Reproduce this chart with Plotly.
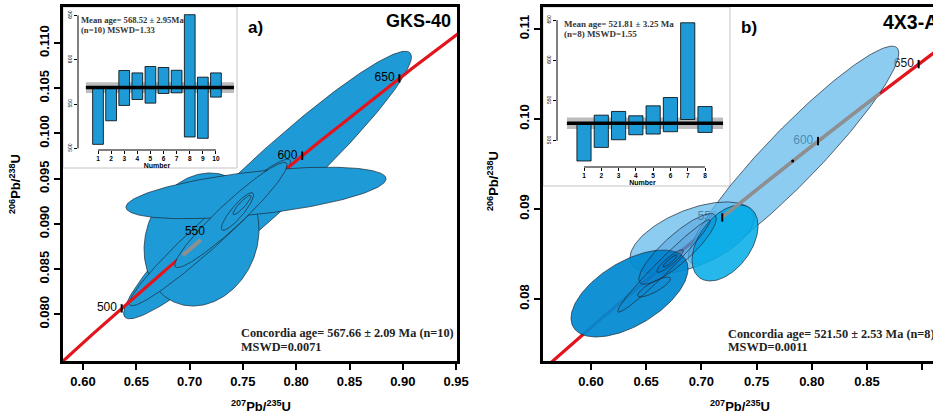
import numpy as np
import plotly.graph_objects as go

# ---------------- constants ----------------
LAMBDA_238 = 1.55125e-10   # 1/yr
LAMBDA_235 = 9.8485e-10    # 1/yr

SANS = "Liberation Sans, Arial, sans-serif"
SERIF = "Liberation Serif, Times New Roman, serif"

# ---------------- Panel a (GKS-40) ----------------
a_name = "GKS-40"
a_xticks = [0.60, 0.65, 0.70, 0.75, 0.80, 0.85, 0.90, 0.95]
a_yticks = [0.080, 0.085, 0.090, 0.095, 0.100, 0.105, 0.110]
a_curve_ages = list(range(440, 720, 2))
a_age_labels = [500, 550, 600, 650]
a_age_marks = [500, 600, 650]
a_gray_ages = [535, 545]
# analysis ellipses: centre 207Pb/235U, centre 206Pb/238U, half-widths, error correlation
a_ell_x = [0.7731, 0.7112, 0.7191, 0.7623, 0.7388, 0.7449, 0.7492]
a_ell_y = [0.09430, 0.08827, 0.08905, 0.09342, 0.09098, 0.09137, 0.09209]
a_ell_sx = [0.1350, 0.0539, 0.0756, 0.1220, 0.0527, 0.0151, 0.0085]
a_ell_sy = [0.01480, 0.00736, 0.00811, 0.00285, 0.00582, 0.00208, 0.00107]
a_ell_rho = [0.958, 0.15, 0.966, 0.55, 0.950, 0.878, 0.90]
a_n_under_curve = 3
a_conc_lines = ["Concordia age= 567.66 ± 2.09 Ma (n=10)", "MSWD=0.0071"]
a_mean_lines = ["Mean age= 568.52 ± 2.95Ma", "(n=10) MSWD=1.33"]
a_bar_num = [1, 2, 3, 4, 5, 6, 7, 8, 9, 10]
a_bar_lo = [504.5, 531.1, 548.4, 555.1, 551.0, 561.9, 562.6, 512.8, 511.3, 557.8]
a_bar_hi = [568.6, 567.9, 587.8, 585.1, 592.3, 591.2, 588.1, 650.8, 580.3, 585.1]
a_mean_age = 568.52
a_mean_band = 6.0
a_inset_ticks = [500, 550, 600, 650]

# ---------------- Panel b (4X3-A) ----------------
b_name = "4X3-A"
b_xticks = [0.60, 0.65, 0.70, 0.75, 0.80, 0.85, 0.90]
b_yticks = [0.08, 0.09, 0.10, 0.11]
b_curve_ages = list(range(440, 720, 2))
b_age_labels = [550, 600, 650]
b_gray_ages = [550, 631]
b_dot_age = [587]
b_ell_x = [0.7834, 0.6915, 0.7214, 0.6349, 0.6784, 0.6661, 0.6571, 0.6716, 0.6716]
b_ell_y = [0.0960, 0.08678, 0.08622, 0.08061, 0.08556, 0.08367, 0.08133, 0.08422, 0.08422]
b_ell_sx = [0.0954, 0.0562, 0.0299, 0.0530, 0.0351, 0.0419, 0.0149, 0.0120, 0.0063]
b_ell_sy = [0.01209, 0.0040, 0.00422, 0.00483, 0.00393, 0.00513, 0.00111, 0.00126, 0.00067]
b_ell_rho = [0.937, 0.55, 0.45, 0.57, 0.856, 0.977, 0.82, 0.894, 0.90]
b_ell_fill = ["rgba(95,185,235,0.72)", "rgba(95,185,235,0.72)", "rgba(0,172,232,0.85)",
              "rgba(0,138,210,0.93)", "rgba(0,100,190,0.22)", "rgba(0,100,190,0.10)",
              "rgba(0,100,190,0.10)", "rgba(0,100,190,0.10)", "rgba(0,100,190,0.10)"]
b_conc_lines = ["Concordia age= 521.50 ± 2.53 Ma (n=8)", "MSWD=0.0011"]
b_mean_lines = ["Mean age= 521.81 ± 3.25 Ma", "(n=8) MSWD=1.55"]
b_bar_num = [1, 2, 3, 4, 5, 6, 7, 8]
b_bar_lo = [474.8, 491.7, 501.2, 507.4, 508.3, 511.2, 526.4, 510.3]
b_bar_hi = [522.3, 531.8, 536.4, 531.0, 543.4, 553.7, 646.7, 542.5]
b_mean_age = 521.81
b_mean_band = 7.2
b_inset_ticks = [500, 550, 600, 650]

A_FILL = "#1e9bd7"
OUTLINE = "#1c2833"
RED = "#e3141b"
GRAY = "#8f8f8f"


def concordia(ages_ma):
    t = np.asarray(ages_ma, dtype=float) * 1e6
    return np.expm1(LAMBDA_235 * t), np.expm1(LAMBDA_238 * t)


_t = np.linspace(0, 2 * np.pi, 241)


def ellipse(cx, cy, sx, sy, rho):
    x = cx + sx * np.cos(_t)
    y = cy + sy * (rho * np.cos(_t) + np.sqrt(1 - rho ** 2) * np.sin(_t))
    return x, y


fig = go.Figure()


def add_ellipse(cx, cy, sx, sy, rho, fill, xa, ya):
    ex, ey = ellipse(cx, cy, sx, sy, rho)
    fig.add_trace(go.Scatter(x=ex, y=ey, mode="lines", fill="toself", fillcolor=fill,
                             line=dict(color=OUTLINE, width=0.7), hoverinfo="skip",
                             xaxis=xa, yaxis=ya))


def add_curve(ages, color, width, xa, ya):
    cx, cy = concordia(ages)
    fig.add_trace(go.Scatter(x=cx, y=cy, mode="lines", line=dict(color=color, width=width),
                             hoverinfo="skip", xaxis=xa, yaxis=ya))


def add_age_labels(ages, xa, ya, textcolor="black"):
    cx, cy = concordia(ages)
    fig.add_trace(go.Scatter(
        x=cx, y=cy, mode="markers+text", text=[str(a) for a in ages],
        textposition="middle left",
        textfont=dict(family=SANS, size=12, color=textcolor),
        marker=dict(symbol="line-ns", size=6, line=dict(width=2, color="rgba(0,0,0,0)")),
        hoverinfo="skip", xaxis=xa, yaxis=ya))


def add_age_marks(ages, xa, ya):
    cx, cy = concordia(ages)
    fig.add_trace(go.Scatter(
        x=cx, y=cy, mode="markers",
        marker=dict(symbol="line-ns", size=6, line=dict(width=2, color="black")),
        hoverinfo="skip", xaxis=xa, yaxis=ya))


# ---------- panel a ----------
for i in range(len(a_ell_x)):
    if i == a_n_under_curve:
        add_curve(a_curve_ages, RED, 3.2, "x", "y")
    add_ellipse(a_ell_x[i], a_ell_y[i], a_ell_sx[i], a_ell_sy[i], a_ell_rho[i], A_FILL, "x", "y")
add_curve(list(range(a_gray_ages[0], a_gray_ages[1] + 1)), GRAY, 4, "x", "y")
add_age_marks(a_age_marks, "x", "y")
add_age_labels(a_age_labels, "x", "y")

# ---------- panel b ----------
add_curve(b_curve_ages, RED, 3.2, "x2", "y2")
add_age_labels(b_age_labels, "x2", "y2", textcolor="#111111")
for i in range(len(b_ell_x)):
    add_ellipse(b_ell_x[i], b_ell_y[i], b_ell_sx[i], b_ell_sy[i], b_ell_rho[i], b_ell_fill[i], "x2", "y2")
add_curve(list(range(b_gray_ages[0], b_gray_ages[1] + 1)), GRAY, 3.5, "x2", "y2")
add_age_marks(b_age_labels, "x2", "y2")
dx, dy = concordia(b_dot_age)
fig.add_trace(go.Scatter(x=dx, y=dy, mode="markers", marker=dict(color="black", size=3),
                         hoverinfo="skip", xaxis="x2", yaxis="y2"))

# ---------- insets ----------
fig.add_trace(go.Bar(x=a_bar_num, y=[h - l for h, l in zip(a_bar_hi, a_bar_lo)], base=a_bar_lo,
                     width=0.82, marker=dict(color=A_FILL, line=dict(color="black", width=0.8)),
                     hoverinfo="skip", xaxis="x3", yaxis="y3"))
fig.add_trace(go.Bar(x=b_bar_num, y=[h - l for h, l in zip(b_bar_hi, b_bar_lo)], base=b_bar_lo,
                     width=0.82, marker=dict(color=A_FILL, line=dict(color="black", width=0.8)),
                     hoverinfo="skip", xaxis="x4", yaxis="y4"))

# ---------- axes ----------
W, H = 933, 416


def px_x(p):
    return p / W


def px_y(p):
    return (H - p) / H


main_ax = dict(showline=True, linewidth=3, linecolor="black", mirror=True, ticks="outside",
               ticklen=6, tickwidth=2, tickcolor="black", showgrid=False, zeroline=False,
               automargin=False,
               tickfont=dict(family=SANS, size=13, color="black", weight="bold"))
inset_x = dict(showline=False, ticks="outside", ticklen=2.5, tickwidth=1, tickcolor="black",
               showgrid=False, zeroline=False, automargin=False,
               tickfont=dict(family=SANS, size=6.5, color="black", weight="bold"),
               title=dict(text="Number", font=dict(family=SANS, size=7, color="black", weight="bold"),
                          standoff=0))
inset_y = dict(showline=False, ticks="outside", ticklen=3, tickwidth=1, tickcolor="black",
               showgrid=False, zeroline=False, tickangle=-90, automargin=False,
               tickfont=dict(family=SANS, size=5, color="black"))

main_ydom = [px_y(361), px_y(7)]

fig.update_layout(
    width=W, height=H, autosize=False, margin=dict(l=0, r=0, t=0, b=0, autoexpand=False),
    paper_bgcolor="white", plot_bgcolor="rgba(0,0,0,0)", showlegend=False, barmode="overlay",
    xaxis=dict(domain=[px_x(63), px_x(457)], range=[0.58124, 0.95084], tickvals=a_xticks,
               tickformat=".2f", anchor="y", **main_ax),
    yaxis=dict(domain=main_ydom, range=[0.07483, 0.11399], tickvals=a_yticks, tickformat=".3f",
               tickangle=-90, anchor="x", **main_ax),
    xaxis2=dict(domain=[px_x(543), 1.0], range=[0.55652, 0.90978], tickvals=b_xticks,
                tickformat=".2f", anchor="y2", **main_ax),
    yaxis2=dict(domain=main_ydom, range=[0.07311, 0.11244], tickvals=b_yticks, tickformat=".2f",
                tickangle=-90, anchor="x2", **{**main_ax, "mirror": False}),
    xaxis3=dict(domain=[px_x(78), px_x(236)], range=[-0.526, 11.53], tickvals=a_bar_num,
                anchor="y3", **inset_x),
    yaxis3=dict(domain=[px_y(150), px_y(10)], range=[498.1, 656.1], tickvals=a_inset_ticks,
                anchor="x3", **inset_y),
    xaxis4=dict(domain=[px_x(557), px_x(728)], range=[-0.562, 9.33], tickvals=b_bar_num,
                anchor="y4", **inset_x),
    yaxis4=dict(domain=[px_y(167), px_y(10)], range=[467.3, 662.6], tickvals=b_inset_ticks,
                anchor="x4", **inset_y),
)

shapes = []
# inset boxes
for (x0, x1, y1) in [(63, 237, 168), (543, 730, 186)]:
    shapes.append(dict(type="rect", xref="paper", yref="paper", x0=px_x(x0), x1=px_x(x1),
                       y0=px_y(y1), y1=px_y(7), fillcolor="white",
                       line=dict(color="#c4c4c4", width=1), layer="below"))
for xa, ya, mean, band, nums, ticks, ext in [
        ("x3", "y3", a_mean_age, a_mean_band, a_bar_num, a_inset_ticks, (0.05, 0.987)),
        ("x4", "y4", b_mean_age, b_mean_band, b_bar_num, b_inset_ticks, (0.058, 0.971))]:
    shapes.append(dict(type="rect", xref=xa + " domain", yref=ya, x0=ext[0], x1=ext[1],
                       y0=mean - band, y1=mean + band, fillcolor="#bdbdbd",
                       line=dict(width=0), layer="below"))
    shapes.append(dict(type="line", xref=xa + " domain", yref=ya, x0=ext[0], x1=ext[1],
                       y0=mean, y1=mean, line=dict(color="black", width=3.5), layer="above"))
    shapes.append(dict(type="line", xref=xa + " domain", yref=ya, x0=0, x1=0,
                       y0=ticks[0], y1=ticks[-1], line=dict(color="black", width=1)))
    shapes.append(dict(type="line", xref=xa, yref=ya + " domain", x0=nums[0], x1=nums[-1],
                       y0=0, y1=0, line=dict(color="black", width=1)))
fig.update_layout(shapes=shapes)

ann = []


def note(text, x, y, size, family=SANS, xanchor="left", angle=0, color="black", bold=True):
    ann.append(dict(text=text, x=x, y=y, xref="paper", yref="paper", showarrow=False,
                    xanchor=xanchor, yanchor="middle", textangle=angle,
                    font=dict(family=family, size=size, color=color,
                              weight="bold" if bold else "normal")))


xtitle = "<sup>207</sup>Pb/<sup>235</sup>U"
ytitle = "<sup>206</sup>Pb/<sup>238</sup>U"
note(xtitle, px_x(261), px_y(406), 13, xanchor="center")
note(xtitle, px_x(740), px_y(406), 13, xanchor="center")
note(ytitle, px_x(15), px_y(184), 13, xanchor="center", angle=-90)
note(ytitle, px_x(493), px_y(181), 13, xanchor="center", angle=-90)
note("a)", px_x(246), px_y(27.5), 17)
note(a_name, px_x(453), px_y(21.5), 18, xanchor="right")
note("b)", px_x(739), px_y(27.5), 17)
note(b_name, px_x(881), px_y(22.5), 19.5)
note(a_conc_lines[0], px_x(239), px_y(333), 12.3, family=SERIF, color="#222222")
note(a_conc_lines[1], px_x(239), px_y(347), 12.3, family=SERIF, color="#222222")
note(b_conc_lines[0], px_x(726), px_y(334), 12.3, family=SERIF, color="#222222")
note(b_conc_lines[1], px_x(726), px_y(347), 12.3, family=SERIF, color="#222222")
note(a_mean_lines[0], px_x(79), px_y(20), 8.6, family=SERIF, color="#333333")
note(a_mean_lines[1], px_x(79), px_y(29.5), 8.6, family=SERIF, color="#333333")
note(b_mean_lines[0], px_x(562), px_y(24), 9, family=SERIF, color="#333333")
note(b_mean_lines[1], px_x(562), px_y(34.5), 9, family=SERIF, color="#333333")
fig.update_layout(annotations=ann)

fig.write_html("out.html", config={"displayModeBar": False},
               post_script="document.body.style.margin='0px';document.body.style.overflow='hidden';")
